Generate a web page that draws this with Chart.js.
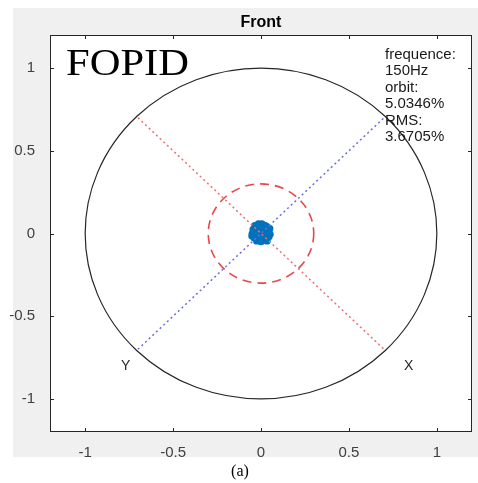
<!DOCTYPE html>
<html>
<head>
<meta charset="utf-8">
<script src="https://cdn.jsdelivr.net/npm/chart.js@4"></script>
<style>
  html, body { margin: 0; padding: 0; background: #ffffff; }
  canvas { display: block; }
</style>
</head>
<body>
<canvas id="orbit" width="478" height="483"></canvas>
<script>
// Axis ticks (both axes)
const tickValues = [-1, -0.5, 0, 0.5, 1];
const axisMin = -1.2;
const axisMax = 1.2;

// Reference shapes
const outerCircleRadius = 1;
const limitCircleRadius = 0.3;
const xAxisLine = [{ x: -0.7, y: 0.7 }, { x: 0.7, y: -0.7 }];
const yAxisLine = [{ x: -0.7, y: -0.7 }, { x: 0.7, y: 0.7 }];

// Shaft orbit samples (cluster near centre)
const orbitX = [0.045, 0.040, 0.020, -0.005, -0.030, -0.045, -0.050, -0.040, -0.025, 0.000,
                0.025, 0.045, 0.030, -0.020, -0.020, 0.020, 0.050, -0.052, 0.010, -0.010,
                0.035, -0.035, 0.005, 0.052, -0.015, 0.030, 0.000, 0.010, -0.008, 0.012,
                -0.012, 0.000];
const orbitY = [0.010, 0.035, 0.050, 0.055, 0.045, 0.025, 0.000, -0.025, -0.045, -0.050,
                -0.040, -0.020, 0.020, 0.020, -0.020, -0.020, 0.030, -0.015, 0.040, -0.035,
                -0.045, 0.048, 0.058, -0.005, 0.058, 0.045, 0.008, -0.006, 0.002, 0.015,
                -0.010, -0.018];

// Text
const titleText = 'Front';
const methodLabel = 'FOPID';
const infoLines = ['frequence:', '150Hz', 'orbit:', '5.0346%', 'RMS:', '3.6705%'];
const axisLabels = [{ text: 'Y', x: -0.77, y: -0.80 }, { text: 'X', x: 0.84, y: -0.80 }];
const captionText = '(a)';

const orbitPoints = orbitX.map((x, i) => ({ x: x, y: orbitY[i] }));

const figurePlugin = {
    id: 'figure',
    beforeDraw(chart) {
        const ctx = chart.ctx;
        const area = chart.chartArea;
        ctx.save();
        ctx.fillStyle = '#f0f0f0';
        ctx.fillRect(13, 8, 478 - 13, 457 - 8);
        ctx.fillStyle = '#ffffff';
        ctx.fillRect(area.left, area.top, area.right - area.left, area.bottom - area.top);
        ctx.restore();
    },
    beforeDatasetsDraw(chart) {
        const ctx = chart.ctx;
        const xs = chart.scales.x;
        const ys = chart.scales.y;
        const cx = xs.getPixelForValue(0);
        const cy = ys.getPixelForValue(0);

        ctx.save();
        // outer circle
        ctx.strokeStyle = '#262626';
        ctx.lineWidth = 1.2;
        ctx.beginPath();
        ctx.ellipse(cx, cy,
            xs.getPixelForValue(outerCircleRadius) - cx,
            cy - ys.getPixelForValue(outerCircleRadius), 0, 0, Math.PI * 2);
        ctx.stroke();

        // limit circle (dashed red)
        ctx.strokeStyle = '#e8474b';
        ctx.lineWidth = 1.6;
        ctx.setLineDash([9, 6]);
        ctx.beginPath();
        ctx.ellipse(cx, cy,
            xs.getPixelForValue(limitCircleRadius) - cx,
            cy - ys.getPixelForValue(limitCircleRadius), 0, 0, Math.PI * 2);
        ctx.stroke();
        ctx.restore();
    },
    afterDraw(chart) {
        const ctx = chart.ctx;
        const area = chart.chartArea;
        const xs = chart.scales.x;
        const ys = chart.scales.y;

        ctx.save();
        // axes box with inward ticks
        ctx.strokeStyle = '#262626';
        ctx.lineWidth = 1;
        ctx.strokeRect(area.left + 0.5, area.top + 0.5, area.right - area.left - 1, area.bottom - area.top - 1);
        ctx.beginPath();
        tickValues.forEach(v => {
            const px = Math.round(xs.getPixelForValue(v)) + 0.5;
            ctx.moveTo(px, area.bottom); ctx.lineTo(px, area.bottom - 4);
            ctx.moveTo(px, area.top); ctx.lineTo(px, area.top + 4);
            const py = Math.round(ys.getPixelForValue(v)) + 0.5;
            ctx.moveTo(area.left, py); ctx.lineTo(area.left + 4, py);
            ctx.moveTo(area.right, py); ctx.lineTo(area.right - 4, py);
        });
        ctx.stroke();

        // title
        ctx.fillStyle = '#000000';
        ctx.textAlign = 'center';
        ctx.textBaseline = 'alphabetic';
        ctx.font = 'bold 16px "Liberation Sans", Arial, sans-serif';
        ctx.fillText(titleText, (area.left + area.right) / 2, 27);

        // method label
        ctx.save();
        ctx.translate(66, 75);
        ctx.scale(1.12, 1);
        ctx.textAlign = 'left';
        ctx.font = '38px "Liberation Serif", "Times New Roman", serif';
        ctx.fillText(methodLabel, 0, 0);
        ctx.restore();

        // info block
        ctx.textAlign = 'left';
        ctx.font = '15px "Liberation Sans", Arial, sans-serif';
        ctx.fillStyle = '#1a1a1a';
        infoLines.forEach((line, i) => {
            ctx.fillText(line, 385, 59 + i * 16.4);
        });

        // X / Y markers
        ctx.textAlign = 'center';
        ctx.textBaseline = 'middle';
        ctx.font = '14px "Liberation Sans", Arial, sans-serif';
        ctx.fillStyle = '#262626';
        axisLabels.forEach(l => {
            ctx.fillText(l.text, xs.getPixelForValue(l.x), ys.getPixelForValue(l.y));
        });

        // caption
        ctx.fillStyle = '#000000';
        ctx.textBaseline = 'alphabetic';
        ctx.font = '16px "Liberation Serif", "Times New Roman", serif';
        ctx.fillText(captionText, 240, 476);
        ctx.restore();
    }
};

const tickFont = { family: '"Liberation Sans", Arial, sans-serif', size: 15 };
const tickLabel = v => String(v);

new Chart(document.getElementById('orbit').getContext('2d'), {
    type: 'scatter',
    data: {
        datasets: [
            {
                data: xAxisLine,
                showLine: true,
                borderColor: '#ee7070',
                borderWidth: 1.5,
                borderDash: [2, 3],
                pointRadius: 0
            },
            {
                data: yAxisLine,
                showLine: true,
                borderColor: '#6c6ce8',
                borderWidth: 1.5,
                borderDash: [2, 3],
                pointRadius: 0
            },
            {
                data: orbitPoints,
                showLine: false,
                pointRadius: 3.6,
                pointBorderWidth: 0,
                backgroundColor: '#0072bd'
            }
        ]
    },
    options: {
        responsive: false,
        animation: false,
        events: [],
        layout: { padding: { top: 35, right: 6, left: 0, bottom: 0 } },
        plugins: { legend: { display: false }, tooltip: { enabled: false } },
        scales: {
            x: {
                type: 'linear',
                min: axisMin,
                max: axisMax,
                afterBuildTicks: axis => { axis.ticks = tickValues.map(v => ({ value: v })); },
                afterFit: axis => { axis.height = 51; },
                grid: { display: false },
                border: { display: false },
                ticks: { font: tickFont, color: '#404040', padding: 4, maxRotation: 0, callback: tickLabel }
            },
            y: {
                type: 'linear',
                min: axisMin,
                max: axisMax,
                afterBuildTicks: axis => { axis.ticks = tickValues.map(v => ({ value: v })); },
                afterFit: axis => { axis.width = 50; },
                grid: { display: false },
                border: { display: false },
                ticks: { font: tickFont, color: '#404040', padding: 7, callback: tickLabel }
            }
        }
    },
    plugins: [figurePlugin]
});
</script>
</body>
</html>
